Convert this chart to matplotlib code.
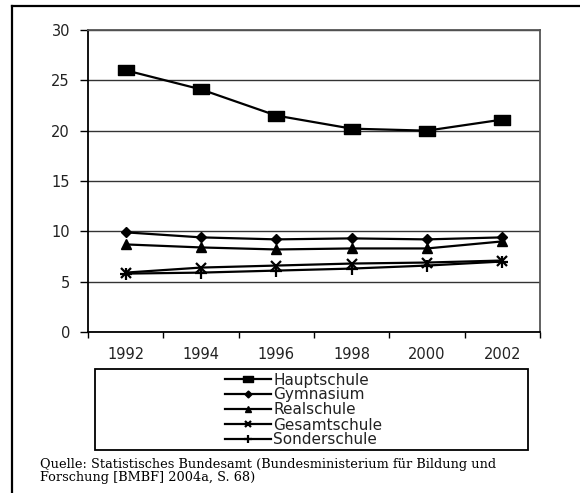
import matplotlib.pyplot as plt
import numpy as np
from matplotlib.path import Path
from matplotlib.lines import Line2D
from matplotlib.patches import Rectangle

# --- Data ---
years = ["1992", "1994", "1996", "1998", "2000", "2002"]
hauptschule = [26.0, 24.1, 21.5, 20.2, 20.0, 21.1]
gymnasium = [9.9, 9.4, 9.2, 9.3, 9.2, 9.4]
realschule = [8.7, 8.4, 8.2, 8.3, 8.3, 9.0]
gesamtschule = [5.9, 6.4, 6.6, 6.8, 6.9, 7.1]
sonderschule = [5.8, 5.9, 6.1, 6.3, 6.6, 7.0]
source = ("Quelle: Statistisches Bundesamt (Bundesministerium für Bildung und\n"
          "Forschung [BMBF] 2004a, S. 68)")

# wide rectangle marker (the original chart is stretched horizontally)
rect = Path([(-1, -0.6), (1, -0.6), (1, 0.6), (-1, 0.6), (-1, -0.6)],
            [Path.MOVETO, Path.LINETO, Path.LINETO, Path.LINETO, Path.CLOSEPOLY])

plt.rcParams["font.family"] = "DejaVu Sans"

fig = plt.figure(figsize=(5.8, 4.93), dpi=100)
W, H = 580, 493
ax = fig.add_axes([88 / W, (H - 332) / H, (540 - 88) / W, (332 - 30) / H])

x = np.arange(len(years))
series = [
    ("Hauptschule", hauptschule, dict(marker=rect, markersize=11)),
    ("Gymnasium", gymnasium, dict(marker="D", markersize=5)),
    ("Realschule", realschule, dict(marker="^", markersize=7)),
    ("Gesamtschule", gesamtschule, dict(marker="x", markersize=7, markeredgewidth=1.6)),
    ("Sonderschule", sonderschule, dict(marker="+", markersize=8, markeredgewidth=1.6)),
]
for name, vals, style in series:
    ax.plot(x, vals, color="black", lw=1.6, label=name,
            markerfacecolor="black", markeredgecolor="black", **style)

# --- Axes settings ---
ax.set_xlim(-0.5, len(years) - 0.5)
ax.set_ylim(0, 30)
ax.set_yticks(range(0, 31, 5))
ax.set_xticks(np.arange(-0.5, len(years), 1))
ax.set_xticklabels([])
ax.set_xticks(x, minor=True)
ax.set_xticklabels(years, minor=True)
ax.tick_params(axis="x", which="major", length=4, width=1, direction="out")
ax.tick_params(axis="x", which="minor", length=0, pad=11, labelsize=10.5,
               labelcolor="#222222")
ax.tick_params(axis="y", length=6, width=1, pad=7, labelsize=10.5,
               labelcolor="#222222")
ax.yaxis.grid(True, color="#333333", lw=1.0)
ax.set_axisbelow(True)
for side in ["left", "bottom"]:
    ax.spines[side].set_linewidth(1.3)
    ax.spines[side].set_color("black")
for side in ["top", "right"]:
    ax.spines[side].set_linewidth(1.3)
    ax.spines[side].set_color("#555555")

# --- Legend box ---
fig.patches.append(Rectangle((95 / W, (H - 450) / H), (528 - 95) / W, 81 / H,
                             transform=fig.transFigure, fill=False,
                             edgecolor="black", lw=1.3))
fig.legend(loc="center", bbox_to_anchor=(304 / W, (H - 410) / H),
           frameon=False, fontsize=11, handlelength=3.0, handletextpad=0.15,
           labelspacing=0.0, borderpad=0, markerscale=0.7,
           labelcolor="#222222")

# --- Outer frame ---
fig.add_artist(Line2D([12 / W, 1], [(H - 6) / H] * 2, color="black", lw=1.6,
                      transform=fig.transFigure))
fig.add_artist(Line2D([12 / W] * 2, [0, (H - 6) / H], color="black", lw=1.6,
                      transform=fig.transFigure))

# --- Source note ---
fig.text(40 / W, (H - 458) / H, source, family="DejaVu Serif", fontsize=9.3,
         va="top", ha="left", linespacing=0.95)

fig.savefig("out.png", dpi=100)
